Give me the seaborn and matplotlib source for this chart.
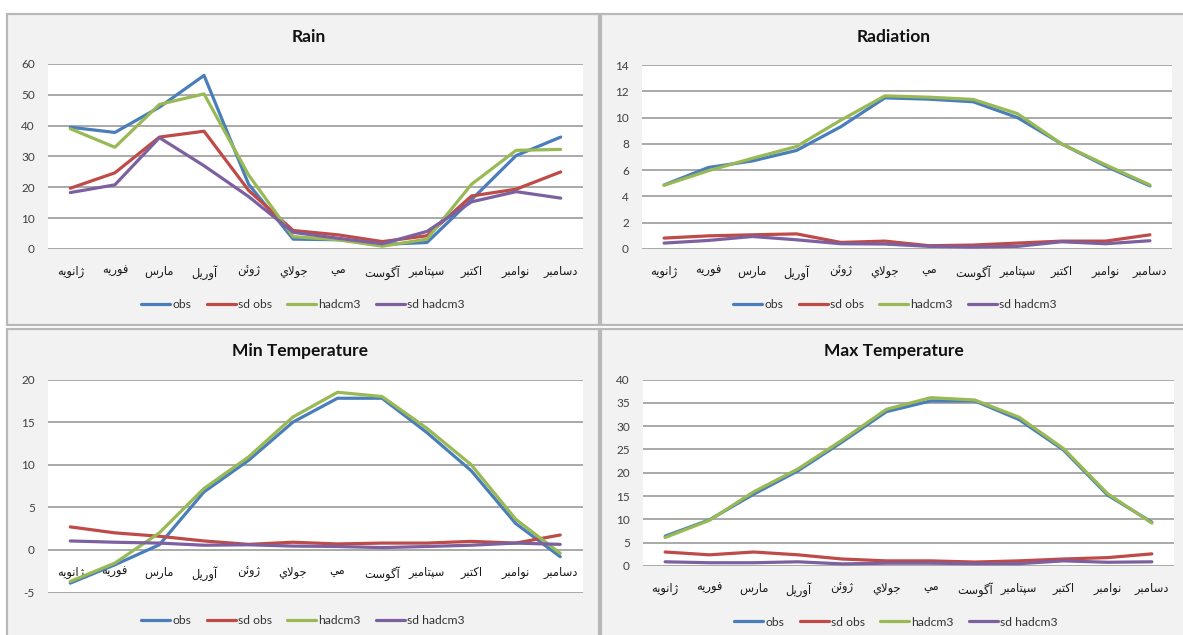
import matplotlib
matplotlib.use("Agg")
import matplotlib.pyplot as plt
from matplotlib.patches import Rectangle
import seaborn as sns
import pandas as pd
import numpy as np

# Month labels (Persian), in the order used on the category axis
months = ["ژانویه", "فوریه", "مارس", "آوریل", "ژوئن", "جولاي",
          "مي", "آگوست", "سپتامبر", "اکتبر", "نوامبر", "دسامبر"]
series_names = ["obs", "sd obs", "hadcm3", "sd hadcm3"]

rain_obs = [39.5, 37.8, 46.0, 56.3, 21.0, 3.2, 3.0, 1.5, 2.1, 16.0, 30.3, 36.3]
rain_sd_obs = [19.7, 24.7, 36.3, 38.2, 19.0, 6.0, 4.6, 2.4, 4.3, 17.2, 19.4, 25.0]
rain_hadcm3 = [39.0, 33.0, 46.9, 50.3, 24.0, 4.0, 3.0, 0.9, 3.2, 21.0, 32.0, 32.3]
rain_sd_hadcm3 = [18.3, 20.8, 36.1, 27.0, 17.0, 5.4, 3.5, 1.7, 5.7, 15.3, 18.6, 16.5]

rad_obs = [4.87, 6.2, 6.7, 7.5, 9.3, 11.5, 11.4, 11.2, 10.0, 8.0, 6.3, 4.8]
rad_sd_obs = [0.83, 1.0, 1.08, 1.15, 0.5, 0.6, 0.25, 0.3, 0.45, 0.6, 0.6, 1.08]
rad_hadcm3 = [4.85, 5.95, 6.9, 7.8, 9.8, 11.65, 11.55, 11.38, 10.3, 8.0, 6.4, 4.87]
rad_sd_hadcm3 = [0.45, 0.65, 0.95, 0.7, 0.4, 0.38, 0.2, 0.15, 0.2, 0.55, 0.4, 0.63]

tmin_obs = [-3.9, -1.75, 0.6, 6.8, 10.5, 15.0, 17.8, 17.8, 13.8, 9.3, 3.1, -0.8]
tmin_sd_obs = [2.7, 2.0, 1.6, 1.05, 0.65, 0.9, 0.7, 0.8, 0.8, 1.0, 0.8, 1.75]
tmin_hadcm3 = [-3.7, -1.55, 2.0, 7.2, 10.9, 15.6, 18.5, 18.0, 14.3, 10.0, 3.6, -0.4]
tmin_sd_hadcm3 = [1.05, 0.9, 0.8, 0.55, 0.6, 0.45, 0.4, 0.27, 0.4, 0.55, 0.8, 0.65]

tmax_obs = [6.4, 9.9, 15.4, 20.4, 26.6, 33.1, 35.4, 35.4, 31.4, 24.9, 15.2, 9.4]
tmax_sd_obs = [3.0, 2.4, 3.0, 2.4, 1.5, 1.1, 1.1, 0.85, 1.1, 1.5, 1.8, 2.6]
tmax_hadcm3 = [6.1, 9.8, 15.9, 20.8, 27.0, 33.6, 36.1, 35.6, 31.9, 25.2, 15.5, 9.2]
tmax_sd_hadcm3 = [0.9, 0.7, 0.7, 0.9, 0.45, 0.6, 0.6, 0.5, 0.5, 1.1, 0.8, 0.9]

palette = {"obs": "#4a7ebb", "sd obs": "#be4b48", "hadcm3": "#98b954", "sd hadcm3": "#7d60a0"}

# --- minimal Arabic-script shaping (matplotlib lays text out left-to-right
#     without joining, so the contextual forms are chosen here) ---
FORMS = {
    "\u0627": ("\uFE8D", "\uFE8E", None, None),
    "\u0622": ("\uFE81", "\uFE82", None, None),
    "\u0628": ("\uFE8F", "\uFE90", "\uFE91", "\uFE92"),
    "\u067E": ("\uFB56", "\uFB57", "\uFB58", "\uFB59"),
    "\u062A": ("\uFE95", "\uFE96", "\uFE97", "\uFE98"),
    "\u062C": ("\uFE9D", "\uFE9E", "\uFE9F", "\uFEA0"),
    "\u062F": ("\uFEA9", "\uFEAA", None, None),
    "\u0631": ("\uFEAD", "\uFEAE", None, None),
    "\u0632": ("\uFEAF", "\uFEB0", None, None),
    "\u0698": ("\uFB8A", "\uFB8B", None, None),
    "\u0633": ("\uFEB1", "\uFEB2", "\uFEB3", "\uFEB4"),
    "\u0641": ("\uFED1", "\uFED2", "\uFED3", "\uFED4"),
    "\u06A9": ("\uFB8E", "\uFB8F", "\uFB90", "\uFB91"),
    "\u06AF": ("\uFB92", "\uFB93", "\uFB94", "\uFB95"),
    "\u0644": ("\uFEDD", "\uFEDE", "\uFEDF", "\uFEE0"),
    "\u0645": ("\uFEE1", "\uFEE2", "\uFEE3", "\uFEE4"),
    "\u0646": ("\uFEE5", "\uFEE6", "\uFEE7", "\uFEE8"),
    "\u0647": ("\uFEE9", "\uFEEA", "\uFEEB", "\uFEEC"),
    "\u0648": ("\uFEED", "\uFEEE", None, None),
    "\u06CC": ("\uFBFC", "\uFBFD", "\uFBFE", "\uFBFF"),
    "\u064A": ("\uFEF1", "\uFEF2", "\uFEF3", "\uFEF4"),
    "\u0626": ("\uFE89", "\uFE8A", "\uFE8B", "\uFE8C"),
}
LAM_ALEF = {"\u0627": ("\uFEFB", "\uFEFC", None, None),
            "\u0622": ("\uFEF5", "\uFEF6", None, None)}


def shape(word):
    units = []
    i = 0
    while i < len(word):
        c = word[i]
        if c == "\u0644" and i + 1 < len(word) and word[i + 1] in LAM_ALEF:
            units.append(LAM_ALEF[word[i + 1]])
            i += 2
        else:
            units.append(FORMS.get(c, (c, c, None, None)))
            i += 1
    glyphs = []
    for k, u in enumerate(units):
        joins_prev = k > 0 and units[k - 1][2] is not None
        joins_next = u[2] is not None and k + 1 < len(units)
        if joins_prev and joins_next:
            g = u[3]
        elif joins_prev:
            g = u[1]
        elif joins_next:
            g = u[2]
        else:
            g = u[0]
        glyphs.append(g)
    return "".join(reversed(glyphs))


sns.set_theme(style="white")
plt.rcParams["font.family"] = ["Lato", "DejaVu Sans"]

W, H = 1183, 635
fig = plt.figure(figsize=(W / 100, H / 100), dpi=100)
fig.patch.set_facecolor("white")


def fx(px):
    return px / W


def fy(py):
    return 1 - py / H


# panel frames (x0, y0, x1, y1 in pixels)
panels = [(7, 14, 599, 325), (601, 14, 1185, 325), (7, 329, 599, 640), (601, 329, 1185, 640)]
for x0, y0, x1, y1 in panels:
    fig.patches.append(Rectangle((fx(x0), fy(y1)), fx(x1 - x0), (y1 - y0) / H,
                                 transform=fig.transFigure, facecolor="#f2f2f2",
                                 edgecolor="#b8b8b8", linewidth=1.6, zorder=0))

charts = [
    dict(title="Rain", data=[rain_obs, rain_sd_obs, rain_hadcm3, rain_sd_hadcm3],
         box=(48, 64, 583, 249), ylim=(0, 60), step=10, title_xy=(309, 37), leg_xy=(303, 305)),
    dict(title="Radiation", data=[rad_obs, rad_sd_obs, rad_hadcm3, rad_sd_hadcm3],
         box=(642, 65, 1172, 249), ylim=(0, 14), step=2, title_xy=(894, 37), leg_xy=(895, 305)),
    dict(title="Min Temperature", data=[tmin_obs, tmin_sd_obs, tmin_hadcm3, tmin_sd_hadcm3],
         box=(48, 379.5, 582.5, 592.5), ylim=(-5, 20), step=5, title_xy=(300, 351), leg_xy=(303, 621)),
    dict(title="Max Temperature", data=[tmax_obs, tmax_sd_obs, tmax_hadcm3, tmax_sd_hadcm3],
         box=(643, 379.5, 1174, 566), ylim=(0, 40), step=5, title_xy=(894, 351), leg_xy=(896, 622)),
]

shaped_months = [shape(m) for m in months]

for ch in charts:
    x0, y0, x1, y1 = ch["box"]
    ax = fig.add_axes([fx(x0), fy(y1), fx(x1 - x0), (y1 - y0) / H])
    ax.set_facecolor("white")
    ax.set_zorder(2)

    rows = []
    for name, vals in zip(series_names, ch["data"]):
        for i, v in enumerate(vals):
            rows.append({"month": i, "value": v, "series": name})
    df = pd.DataFrame(rows)

    sns.lineplot(data=df, x="month", y="value", hue="series", hue_order=series_names,
                 palette=palette, linewidth=2.3, ax=ax, legend=True, zorder=3)

    lo, hi = ch["ylim"]
    ax.set_ylim(lo, hi)
    ax.set_xlim(-0.5, 11.5)
    yt = np.arange(lo, hi + 0.001, ch["step"])
    ax.set_yticks(yt)
    ax.set_yticklabels([f"{int(v)}" for v in yt])
    for v in yt:
        ax.axhline(v, color="#a3a3a3", linewidth=1.3, zorder=1)

    ax.set_xticks(range(12))
    ax.set_xticklabels(shaped_months)
    for s in ax.spines.values():
        s.set_visible(False)
    ax.spines["bottom"].set_position(("data", 0))
    ax.tick_params(axis="x", length=0, pad=12, labelsize=8.3, labelcolor="#1a1a1a")
    ax.tick_params(axis="y", length=0, pad=9.5, labelsize=8.5, labelcolor="#404040")
    ax.set_xlabel("")
    ax.set_ylabel("")

    handles, labels = ax.get_legend_handles_labels()
    ax.get_legend().remove()
    lx, ly = ch["leg_xy"]
    fig.legend(handles, labels, loc="center", bbox_to_anchor=(fx(lx), fy(ly)),
               ncol=4, frameon=False, fontsize=8.7, handlelength=2.4,
               handletextpad=0.15, columnspacing=1.3, labelcolor="#333333")

    tx, ty = ch["title_xy"]
    fig.text(fx(tx), fy(ty), ch["title"], ha="center", va="center",
             fontsize=12.5, fontweight="bold", color="#111111")

fig.savefig("out.png", dpi=100, facecolor="white")
